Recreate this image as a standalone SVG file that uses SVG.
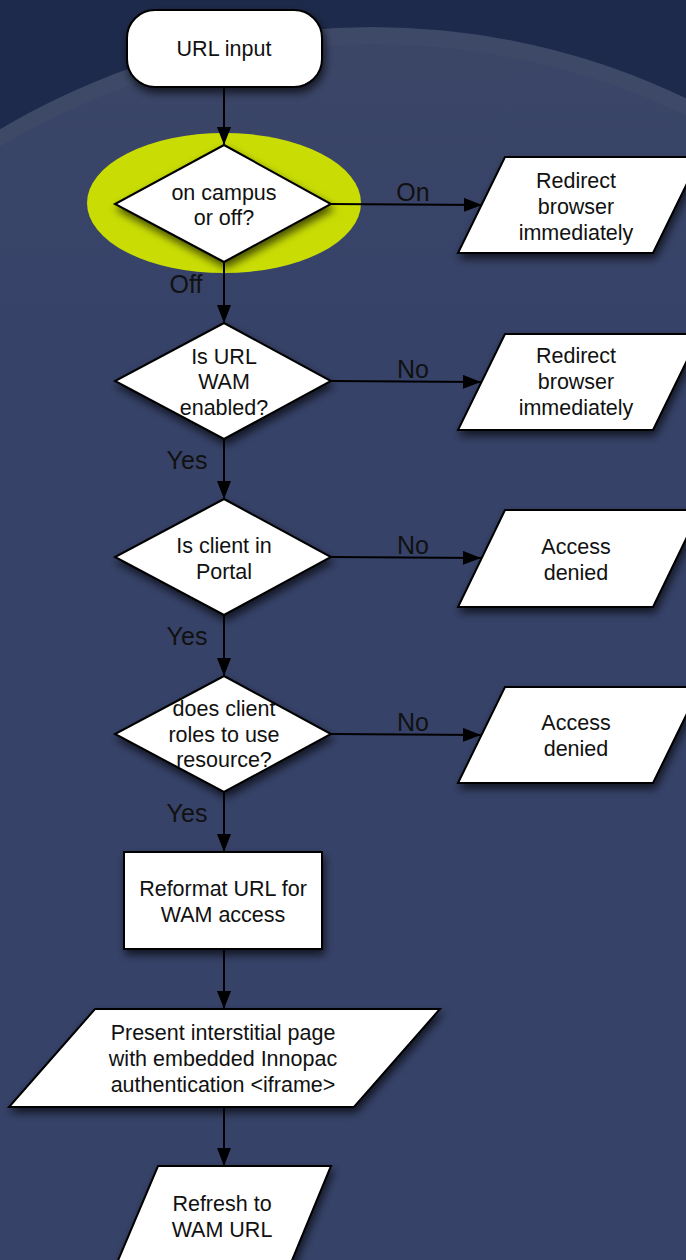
<svg xmlns="http://www.w3.org/2000/svg" width="686" height="1260" viewBox="0 0 686 1260">
<defs>
<style>
.node{fill:#fff;stroke:#000;stroke-width:2;filter:url(#sh)}
.t{font-family:"Liberation Sans",Arial,sans-serif;font-size:21.5px;fill:#111;text-anchor:middle}
.lbl{font-family:"Liberation Sans",Arial,sans-serif;font-size:25px;fill:#111;text-anchor:middle}
.c{stroke:#000;stroke-width:2;fill:none;marker-end:url(#ah)}
</style>
<filter id="sh" x="-20%" y="-20%" width="150%" height="150%">
<feDropShadow dx="2" dy="5" stdDeviation="4" flood-color="#000" flood-opacity="0.65"/>
</filter>
<marker id="ah" markerUnits="userSpaceOnUse" markerWidth="18" markerHeight="14" refX="18" refY="7" orient="auto">
<path d="M0,0 L18,7 L0,14 Z" fill="#000"/>
</marker>
<linearGradient id="bg2" x1="0" y1="40" x2="0" y2="320" gradientUnits="userSpaceOnUse">
<stop offset="0" stop-color="#3b4667"/>
<stop offset="1" stop-color="#364268"/>
</linearGradient>
</defs>

<g id="background">
<rect x="0" y="0" width="686" height="1260" fill="#1e2a4b"/>
<circle cx="372" cy="755" r="728" fill="#3e4968"/>
<circle cx="372" cy="772" r="728" fill="url(#bg2)"/>
</g>

<g id="highlight">
<ellipse cx="224" cy="203" rx="137" ry="70" fill="#c9dd04"/>
</g>

<g id="n-url-input">
<rect class="node" x="127" y="10" width="195" height="77" rx="28" ry="28"/>
<text class="t" x="224" y="56">URL input</text>
</g>

<g id="n-campus">
<polygon class="node" points="224,145 331,204 224,262 115,204"/>
<text class="t" x="224" y="200">on campus</text>
<text class="t" x="224" y="225">or off?</text>
</g>

<g id="n-redirect1">
<polygon class="node" points="505,157 700,157 653,253 458,253"/>
<text class="t" x="576" y="188">Redirect</text>
<text class="t" x="576" y="214">browser</text>
<text class="t" x="576" y="240">immediately</text>
</g>

<g id="n-wam">
<polygon class="node" points="224,323 331,381 224,439 115,381"/>
<text class="t" x="224" y="364">Is URL</text>
<text class="t" x="224" y="389">WAM</text>
<text class="t" x="224" y="415">enabled?</text>
</g>

<g id="n-redirect2">
<polygon class="node" points="505,334 700,334 653,430 458,430"/>
<text class="t" x="576" y="363">Redirect</text>
<text class="t" x="576" y="389">browser</text>
<text class="t" x="576" y="415">immediately</text>
</g>

<g id="n-portal">
<polygon class="node" points="224,499 331,557 224,615 115,557"/>
<text class="t" x="224" y="553">Is client in</text>
<text class="t" x="224" y="579">Portal</text>
</g>

<g id="n-denied1">
<polygon class="node" points="505,510 700,510 653,607 458,607"/>
<text class="t" x="576" y="554">Access</text>
<text class="t" x="576" y="580">denied</text>
</g>

<g id="n-roles">
<polygon class="node" points="224,676 331,734 224,792 115,734"/>
<text class="t" x="224" y="716">does client</text>
<text class="t" x="224" y="742">roles to use</text>
<text class="t" x="224" y="767">resource?</text>
</g>

<g id="n-denied2">
<polygon class="node" points="505,687 700,687 653,783 458,783"/>
<text class="t" x="576" y="730">Access</text>
<text class="t" x="576" y="756">denied</text>
</g>

<g id="n-reformat">
<rect class="node" x="124" y="852" width="198" height="97"/>
<text class="t" x="223" y="896">Reformat URL for</text>
<text class="t" x="223" y="922">WAM access</text>
</g>

<g id="n-interstitial">
<polygon class="node" points="95,1009 440,1009 354,1107 9,1107"/>
<text class="t" x="223" y="1040">Present interstitial page</text>
<text class="t" x="223" y="1066">with embedded Innopac</text>
<text class="t" x="223" y="1092">authentication &lt;iframe&gt;</text>
</g>

<g id="n-refresh">
<polygon class="node" points="158,1166 331,1166 288,1270 114,1270"/>
<text class="t" x="222" y="1211">Refresh to</text>
<text class="t" x="222" y="1237">WAM URL</text>
</g>

<g id="connectors">
<line class="c" x1="224" y1="87" x2="224" y2="145"/>
<line class="c" x1="224" y1="262" x2="224" y2="323"/>
<line class="c" x1="224" y1="439" x2="224" y2="499"/>
<line class="c" x1="224" y1="615" x2="224" y2="676"/>
<line class="c" x1="224" y1="792" x2="224" y2="852"/>
<line class="c" x1="224" y1="949" x2="224" y2="1009"/>
<line class="c" x1="224" y1="1107" x2="224" y2="1166"/>
<line class="c" x1="331" y1="204" x2="482" y2="205"/>
<line class="c" x1="331" y1="381" x2="481" y2="382"/>
<line class="c" x1="331" y1="557" x2="481" y2="558"/>
<line class="c" x1="331" y1="734" x2="481" y2="735"/>
<text class="lbl" x="413" y="201">On</text>
<text class="lbl" x="186" y="293">Off</text>
<text class="lbl" x="413" y="378">No</text>
<text class="lbl" x="187" y="469">Yes</text>
<text class="lbl" x="413" y="554">No</text>
<text class="lbl" x="187" y="645">Yes</text>
<text class="lbl" x="413" y="731">No</text>
<text class="lbl" x="187" y="822">Yes</text>
</g>
</svg>
